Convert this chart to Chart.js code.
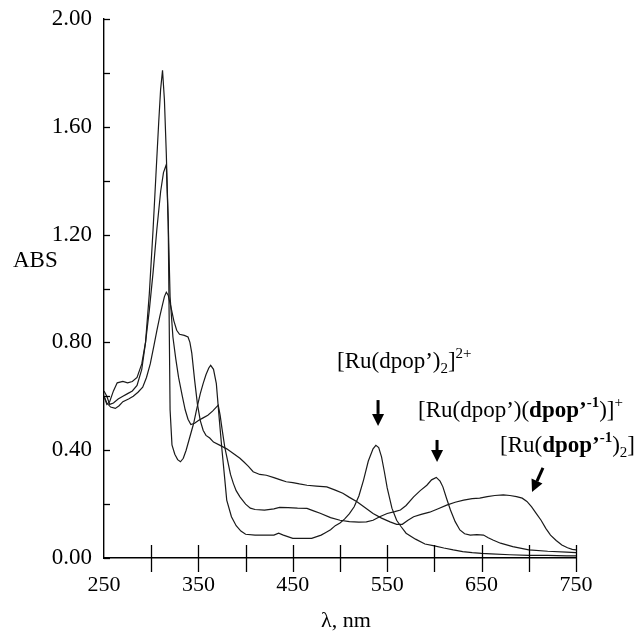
<!DOCTYPE html>
<html>
<head>
<meta charset="utf-8">
<script src="https://cdn.jsdelivr.net/npm/chart.js@4.4.0/dist/chart.umd.min.js"></script>
<style>
  body { margin: 0; background: #fff; }
  #wrap { width: 641px; height: 632px; }
</style>
</head>
<body>
<div id="wrap"><canvas id="absChart" width="641" height="632"></canvas></div>
<script>
// spettri (lambda in nm, assorbanza)
const wlDpop2 = [250,253,256,260,265,270,275,280,285,290,294,298,302,305,308,310,312,314,316,318,319,320,322,325,328,331,334,337,341,345,348,352,355,358,361,363,366,369,372,375,378,380,385,390,395,400,410,420,430,435,440,450,460,470,480,485,490,495,500,505,510,515,520,525,530,535,538,541,544,547,550,555,560,565,570,580,590,600,610,620,630,640,650,660,680,700,720,740,750];
const absDpop2 = [0.62,0.60,0.57,0.575,0.59,0.60,0.61,0.62,0.64,0.70,0.80,0.98,1.22,1.42,1.62,1.74,1.81,1.70,1.50,1.25,0.90,0.55,0.42,0.385,0.365,0.357,0.37,0.40,0.45,0.50,0.55,0.61,0.647,0.68,0.705,0.715,0.70,0.647,0.52,0.40,0.29,0.215,0.153,0.12,0.10,0.088,0.085,0.085,0.085,0.092,0.085,0.073,0.073,0.073,0.085,0.095,0.105,0.12,0.13,0.145,0.165,0.19,0.23,0.29,0.36,0.405,0.418,0.41,0.375,0.32,0.26,0.185,0.14,0.115,0.092,0.07,0.052,0.045,0.037,0.03,0.024,0.02,0.017,0.015,0.012,0.01,0.01,0.008,0.008];

const wlMixed = [250,253,256,260,264,270,275,280,285,290,294,298,302,306,310,313,316,318,320,323,326,329,333,336,339,342,346,350,355,360,365,369,371,373,375,378,381,384,387,390,394,400,405,410,420,430,436,445,455,465,472,479,490,500,510,520,528,535,542,550,558,564,570,578,585,592,597,602,606,609,613,617,622,627,632,638,645,652,657,662,670,683,700,720,740,750];
const absMixed = [0.60,0.57,0.58,0.62,0.65,0.655,0.65,0.655,0.67,0.72,0.80,0.92,1.06,1.22,1.36,1.43,1.46,1.25,0.97,0.82,0.74,0.67,0.60,0.55,0.515,0.495,0.50,0.51,0.52,0.53,0.545,0.56,0.567,0.53,0.48,0.41,0.36,0.31,0.277,0.25,0.227,0.20,0.185,0.18,0.178,0.182,0.188,0.187,0.185,0.184,0.175,0.166,0.15,0.14,0.135,0.133,0.134,0.14,0.153,0.165,0.172,0.178,0.195,0.227,0.25,0.27,0.29,0.299,0.285,0.264,0.22,0.178,0.135,0.104,0.09,0.085,0.087,0.085,0.075,0.067,0.055,0.042,0.03,0.025,0.022,0.02];

const wlRed2 = [250,253,257,262,266,270,276,281,286,291,295,299,303,306,309,312,314,316,318,321,324,327,330,335,339,341,343,346,349,352,355,358,362,366,373,380,387,394,398,403,408,415,422,430,437,443,450,457,465,475,486,495,503,510,518,526,535,544,553,560,566,572,578,586,595,604,613,622,631,640,648,656,664,673,680,687,693,698,703,708,713,718,723,729,735,741,746,750];
const absRed2 = [0.60,0.575,0.56,0.555,0.565,0.58,0.59,0.60,0.615,0.634,0.67,0.72,0.79,0.844,0.895,0.94,0.97,0.986,0.975,0.93,0.88,0.845,0.83,0.826,0.82,0.80,0.76,0.66,0.57,0.51,0.474,0.455,0.445,0.43,0.418,0.405,0.388,0.37,0.357,0.34,0.32,0.31,0.307,0.298,0.29,0.283,0.28,0.275,0.27,0.267,0.264,0.252,0.24,0.225,0.209,0.188,0.165,0.148,0.134,0.125,0.125,0.14,0.153,0.162,0.17,0.183,0.196,0.207,0.215,0.22,0.222,0.228,0.232,0.234,0.232,0.228,0.222,0.21,0.19,0.165,0.14,0.11,0.085,0.065,0.048,0.038,0.032,0.03];

const yTicks = [0, 0.4, 0.8, 1.2, 1.6, 2.0];
const xTicks = [250, 350, 450, 550, 650, 750];

// etichette delle specie: posizione in unita' dei dati
const labels = [
  { x: 496.8, y: 0.705, parts: [["[Ru(dpop’)"], ["2", "sub"], ["]"], ["2+", "sup"]] },
  { x: 582.6, y: 0.523, parts: [["[Ru(dpop’)("], ["dpop’", "bold"], ["-1", "supb"], [")]"], ["+", "sup"]] },
  { x: 669.5, y: 0.393, parts: [["[Ru("], ["dpop’", "bold"], ["-1", "supb"], [")"], ["2", "sub"], ["]"]] }
];
const arrows = [
  { x1: 540.3, y1: 0.586, x2: 540.3, y2: 0.49 },
  { x1: 602.8, y1: 0.438, x2: 602.8, y2: 0.356 },
  { x1: 715, y1: 0.334, x2: 703.4, y2: 0.245 }
];

const FONT = '"Liberation Serif", "Times New Roman", serif';

function toPoints(xs, ys) {
  return xs.map((x, i) => ({ x: x, y: ys[i] }));
}

function drawRich(ctx, parts, x, y) {
  let cx = x;
  parts.forEach(([t, style]) => {
    let size = 23, dy = 0, weight = "";
    if (style === "sub") { size = 15; dy = 5; }
    if (style === "sup") { size = 15; dy = -10; }
    if (style === "supb") { size = 15; dy = -10; weight = "bold "; }
    if (style === "bold") { weight = "bold "; }
    ctx.font = weight + size + "px " + FONT;
    ctx.fillText(t, cx, y + dy);
    cx += ctx.measureText(t).width;
  });
}

function drawArrow(ctx, x1, y1, x2, y2) {
  const ang = Math.atan2(y2 - y1, x2 - x1);
  const head = 12, half = 6;
  const bx = x2 - head * Math.cos(ang), by = y2 - head * Math.sin(ang);
  ctx.lineWidth = 3;
  ctx.beginPath();
  ctx.moveTo(x1, y1);
  ctx.lineTo(bx, by);
  ctx.stroke();
  ctx.beginPath();
  ctx.moveTo(x2, y2);
  ctx.lineTo(bx + half * Math.sin(ang), by - half * Math.cos(ang));
  ctx.lineTo(bx - half * Math.sin(ang), by + half * Math.cos(ang));
  ctx.closePath();
  ctx.fill();
}

const extras = {
  id: "extras",
  afterDraw(chart) {
    const ctx = chart.ctx;
    const xs = chart.scales.x, ys = chart.scales.y;
    const area = chart.chartArea;
    ctx.save();
    ctx.strokeStyle = "#000";
    ctx.fillStyle = "#000";

    // tacche dell'asse y verso l'interno
    ctx.lineWidth = 1.3;
    ys.ticks.forEach(t => {
      const py = Math.round(ys.getPixelForValue(t.value)) + 0.5;
      ctx.beginPath();
      ctx.moveTo(area.left, py);
      ctx.lineTo(area.left + 6, py);
      ctx.stroke();
    });
    // tacche dell'asse x che attraversano l'asse
    xs.ticks.forEach(t => {
      if (t.value === xs.min) return;
      const px = Math.round(xs.getPixelForValue(t.value)) + 0.5;
      ctx.beginPath();
      ctx.moveTo(px, area.bottom - 13);
      ctx.lineTo(px, area.bottom + 14);
      ctx.stroke();
    });

    // titoli degli assi
    ctx.textBaseline = "alphabetic";
    ctx.font = "23px " + FONT;
    ctx.textAlign = "left";
    ctx.fillText("ABS", 13, 267);
    ctx.textAlign = "center";
    ctx.font = "22px " + FONT;
    ctx.fillText("λ, nm", (area.left + area.right) / 2 + 6, 627);

    // etichette e frecce
    ctx.textAlign = "left";
    labels.forEach(l => {
      drawRich(ctx, l.parts, xs.getPixelForValue(l.x), ys.getPixelForValue(l.y));
    });
    arrows.forEach(a => {
      drawArrow(ctx, xs.getPixelForValue(a.x1), ys.getPixelForValue(a.y1),
        xs.getPixelForValue(a.x2), ys.getPixelForValue(a.y2));
    });
    ctx.restore();
  }
};

const lineStyle = { borderColor: "#1a1a1a", borderWidth: 1.2, pointRadius: 0, tension: 0, fill: false };

const ctx = document.getElementById("absChart").getContext("2d");
new Chart(ctx, {
  type: "line",
  data: {
    datasets: [
      Object.assign({ label: "[Ru(dpop')2]2+", data: toPoints(wlDpop2, absDpop2) }, lineStyle),
      Object.assign({ label: "[Ru(dpop')(dpop'-1)]+", data: toPoints(wlMixed, absMixed) }, lineStyle),
      Object.assign({ label: "[Ru(dpop'-1)2]", data: toPoints(wlRed2, absRed2) }, lineStyle)
    ]
  },
  options: {
    responsive: false,
    animation: false,
    layout: { padding: { left: 0, right: 65, top: 19, bottom: 0 } },
    plugins: { legend: { display: false }, tooltip: { enabled: false } },
    scales: {
      x: {
        type: "linear",
        min: 250,
        max: 750,
        afterFit: s => { s.height = 74; },
        grid: { display: false, drawTicks: false },
        border: { display: true, color: "#000", width: 1.4 },
        ticks: {
          stepSize: 50,
          autoSkip: false,
          maxRotation: 0,
          padding: 14,
          color: "#000",
          font: { family: FONT, size: 22 },
          callback: v => (xTicks.includes(v) ? String(v) : "")
        }
      },
      y: {
        min: 0,
        max: 2,
        afterFit: s => { s.width = 104; s.paddingTop = 0; s.paddingBottom = 0; },
        grid: { display: false, drawTicks: false },
        border: { display: true, color: "#000", width: 1.4 },
        ticks: {
          stepSize: 0.2,
          autoSkip: false,
          padding: 12,
          color: "#000",
          font: { family: FONT, size: 23 },
          callback: v => (yTicks.some(t => Math.abs(t - v) < 1e-6) ? v.toFixed(2) : "")
        }
      }
    }
  },
  plugins: [extras]
});
</script>
</body>
</html>
